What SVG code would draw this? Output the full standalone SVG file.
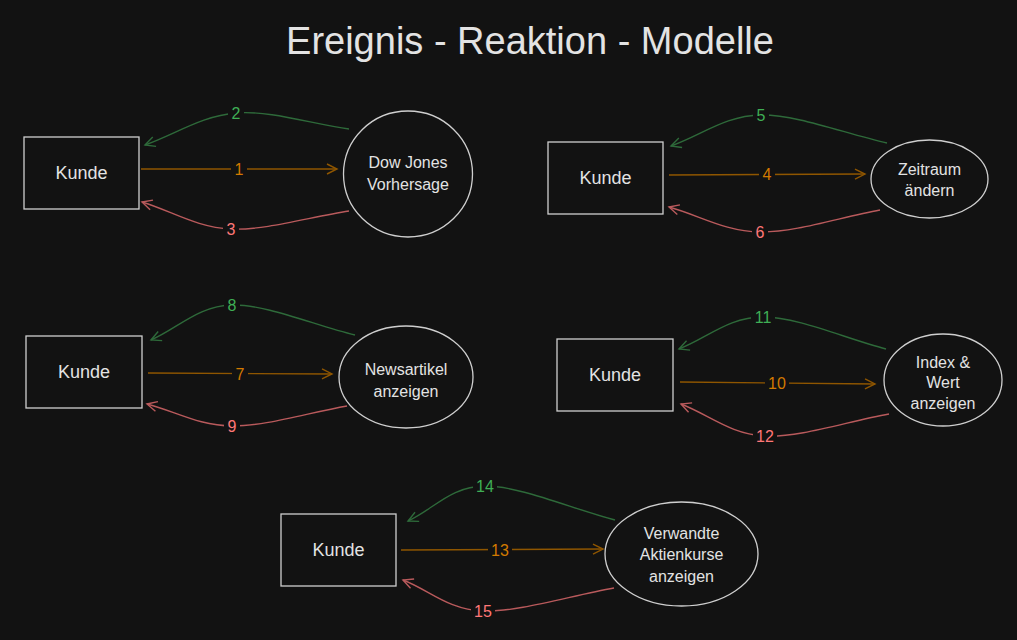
<svg xmlns="http://www.w3.org/2000/svg" width="1017" height="640" viewBox="0 0 1017 640">
<defs>
<style>
.node{fill:none;stroke:#cfcfcf;stroke-width:1.3}
.t{font-family:"Liberation Sans",Arial,sans-serif;fill:#e3e3e3;text-anchor:middle}
.k{font-size:18px}
.e{font-size:16px}
.title{font-size:38px}
.c{fill:none;stroke-width:1.4}
.o{stroke:#8f5600}
.g{stroke:#2e6a3a}
.r{stroke:#b95a5c}
.lbl{font-family:"Liberation Sans",Arial,sans-serif;font-size:16px;text-anchor:middle}
.lo{fill:#d27a00}
.lg{fill:#3fae55}
.lr{fill:#ff7777}
.bg{fill:#121212}
</style>
<marker id="ao" markerWidth="14" markerHeight="14" refX="11" refY="6" orient="auto" markerUnits="userSpaceOnUse"><path d="M1,1 L11,6 L1,11" fill="none" stroke="#8f5600" stroke-width="1.4"/></marker>
<marker id="ag" markerWidth="14" markerHeight="14" refX="11" refY="6" orient="auto" markerUnits="userSpaceOnUse"><path d="M1,1 L11,6 L1,11" fill="none" stroke="#2e6a3a" stroke-width="1.4"/></marker>
<marker id="ar" markerWidth="14" markerHeight="14" refX="11" refY="6" orient="auto" markerUnits="userSpaceOnUse"><path d="M1,1 L11,6 L1,11" fill="none" stroke="#b95a5c" stroke-width="1.4"/></marker>
</defs>
<rect width="1017" height="640" fill="#121212"/>
<text class="t title" x="530" y="54">Ereignis - Reaktion - Modelle</text>

<g id="connectors">
<path class="c o" d="M141,169 L337,169" marker-end="url(#ao)"/>
<path class="c g" d="M349,129 C311.3,123.7 270,110.3 236,113 C202,115.7 175.3,134.3 145,145" marker-end="url(#ag)"/>
<path class="c r" d="M349,211 C309.7,217 265.5,230.5 231,229 C196.5,227.5 171.7,211 142,202" marker-end="url(#ar)"/>

<path class="c o" d="M669,175 L865,174" marker-end="url(#ao)"/>
<path class="c g" d="M887,143 C845,133.7 797,114.5 761,115 C725,115.5 701,135.7 671,146" marker-end="url(#ag)"/>
<path class="c r" d="M880,210 C840,217.3 795.2,232.5 760,232 C724.8,231.5 699.3,215.3 669,207" marker-end="url(#ar)"/>

<path class="c o" d="M148,373 L332,374" marker-end="url(#ao)"/>
<path class="c g" d="M355,335 C314,325 266,304.2 232,305 C198,305.8 178,328.3 151,340" marker-end="url(#ag)"/>
<path class="c r" d="M347,406 C308.7,412.7 265.3,426.3 232,426 C198.7,425.7 175.3,411.3 147,404" marker-end="url(#ar)"/>

<path class="c o" d="M680,382 L875,384" marker-end="url(#ao)"/>
<path class="c g" d="M886,349 C845,338.3 797.5,317 763,317 C728.5,317 707,338.3 679,349" marker-end="url(#ag)"/>
<path class="c r" d="M889,414 C847.7,421.3 799.7,437.7 765,436 C730.3,434.3 709,414.7 681,404" marker-end="url(#ar)"/>

<path class="c o" d="M401,550 L603,549" marker-end="url(#ao)"/>
<path class="c g" d="M615,520 C571.7,508.7 519.5,485.8 485,486 C450.5,486.2 433.7,509.3 408,521" marker-end="url(#ag)"/>
<path class="c r" d="M614,588 C570.3,595.7 518.2,612.3 483,611 C447.8,609.7 429.7,590.3 403,580" marker-end="url(#ar)"/>

<rect class="bg" x="231" y="160" width="16" height="18"/><text class="lbl lo" x="239" y="175">1</text>
<rect class="bg" x="228" y="104" width="16" height="18"/><text class="lbl lg" x="236" y="119">2</text>
<rect class="bg" x="223" y="220" width="16" height="18"/><text class="lbl lr" x="231" y="235">3</text>

<rect class="bg" x="759" y="165" width="16" height="18"/><text class="lbl lo" x="767" y="180">4</text>
<rect class="bg" x="753" y="106" width="16" height="18"/><text class="lbl lg" x="761" y="121">5</text>
<rect class="bg" x="752" y="223" width="16" height="18"/><text class="lbl lr" x="760" y="238">6</text>

<rect class="bg" x="232" y="365" width="16" height="18"/><text class="lbl lo" x="240" y="380">7</text>
<rect class="bg" x="224" y="296" width="16" height="18"/><text class="lbl lg" x="232" y="311">8</text>
<rect class="bg" x="224" y="417" width="16" height="18"/><text class="lbl lr" x="232" y="432">9</text>

<rect class="bg" x="765" y="374" width="24" height="18"/><text class="lbl lo" x="777" y="389">10</text>
<rect class="bg" x="751" y="308" width="24" height="18"/><text class="lbl lg" x="763" y="323">11</text>
<rect class="bg" x="753" y="427" width="24" height="18"/><text class="lbl lr" x="765" y="442">12</text>

<rect class="bg" x="488" y="541" width="24" height="18"/><text class="lbl lo" x="500" y="556">13</text>
<rect class="bg" x="473" y="477" width="24" height="18"/><text class="lbl lg" x="485" y="492">14</text>
<rect class="bg" x="471" y="602" width="24" height="18"/><text class="lbl lr" x="483" y="617">15</text>
</g>

<g id="kunde1"><rect class="node" x="24" y="137" width="115" height="72"/><text class="t k" x="81.5" y="179">Kunde</text></g>
<g id="dowjones"><ellipse class="node" cx="408" cy="174" rx="64.5" ry="63"/><text class="t e" x="408" y="168">Dow Jones</text><text class="t e" x="408" y="190">Vorhersage</text></g>

<g id="kunde2"><rect class="node" x="548" y="142" width="115" height="72"/><text class="t k" x="605.5" y="184">Kunde</text></g>
<g id="zeitraum"><ellipse class="node" cx="929.5" cy="179" rx="58.5" ry="39"/><text class="t e" x="929.5" y="175">Zeitraum</text><text class="t e" x="929.5" y="196">ändern</text></g>

<g id="kunde3"><rect class="node" x="26" y="336" width="116" height="72"/><text class="t k" x="84" y="378">Kunde</text></g>
<g id="newsartikel"><ellipse class="node" cx="406" cy="377" rx="67" ry="51"/><text class="t e" x="406" y="375">Newsartikel</text><text class="t e" x="406" y="397">anzeigen</text></g>

<g id="kunde4"><rect class="node" x="557" y="339" width="116" height="72"/><text class="t k" x="615" y="381">Kunde</text></g>
<g id="indexwert"><ellipse class="node" cx="943" cy="380" rx="59" ry="46"/><text class="t e" x="943" y="368">Index &amp;</text><text class="t e" x="943" y="388">Wert</text><text class="t e" x="943" y="409">anzeigen</text></g>

<g id="kunde5"><rect class="node" x="281" y="514" width="115" height="72"/><text class="t k" x="338.5" y="556">Kunde</text></g>
<g id="verwandte"><ellipse class="node" cx="681.5" cy="554" rx="76.5" ry="52"/><text class="t e" x="681.5" y="539">Verwandte</text><text class="t e" x="681.5" y="560">Aktienkurse</text><text class="t e" x="681.5" y="582">anzeigen</text></g>
</svg>
